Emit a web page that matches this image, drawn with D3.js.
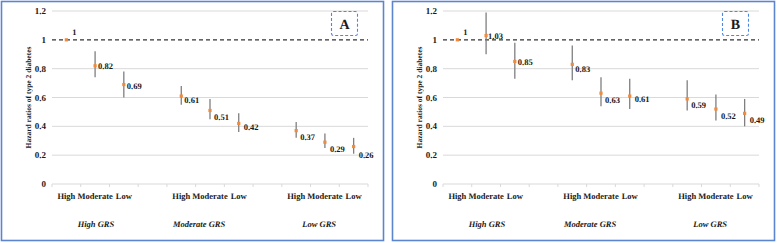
<!DOCTYPE html>
<html>
<head>
<meta charset="utf-8">
<script src="https://cdn.jsdelivr.net/npm/d3@7"></script>
<style>
  body { margin: 0; background: #fff; }
</style>
</head>
<body>
<div id="chart"></div>
<script>
// levels within each genetic risk group, and the groups themselves
const levels = ["High", "Moderate", "Low"];
const groups = ["High GRS", "Moderate GRS", "Low GRS"];
const yTicks = [0, 0.2, 0.4, 0.6, 0.8, 1, 1.2];

// panel A
const hrA = [1, 0.82, 0.69, 0.61, 0.51, 0.42, 0.37, 0.29, 0.26];
const lowA = [1, 0.74, 0.60, 0.55, 0.45, 0.36, 0.32, 0.25, 0.21];
const upA = [1, 0.92, 0.78, 0.68, 0.59, 0.49, 0.43, 0.35, 0.32];
const labelsA = ["1", "0.82", "0.69", "0.61", "0.51", "0.42", "0.37", "0.29", "0.26"];

// panel B
const hrB = [1, 1.03, 0.85, 0.83, 0.63, 0.61, 0.59, 0.52, 0.49];
const lowB = [1, 0.90, 0.73, 0.72, 0.54, 0.52, 0.51, 0.44, 0.40];
const upB = [1, 1.19, 0.98, 0.96, 0.74, 0.73, 0.72, 0.62, 0.59];
const labelsB = ["1", "1.03", "0.85", "0.83", "0.63", "0.61", "0.59", "0.52", "0.49"];

// label nudges (px) as placed in the original figure
const labelDxA = [6, 3, 3, 3, 4, 5, 4, 5, 5];
const labelDyA = [-8, 0, 1, 4, 7, 4, 6, 7, 8];
const labelDxB = [6, 2, 3, 3, 4, 5, 4, 5, 5];
const labelDyB = [-8, 0, 1, 5, 7, 3, 6, 7, 7];

const W = 777, H = 243;
const svg = d3.select("#chart").append("svg")
	.attr("width", W).attr("height", H)
	.attr("font-family", "'Liberation Serif', 'DejaVu Serif', serif")
	.attr("font-weight", "bold")
	.attr("fill", "#1a1a1a")
	.style("text-rendering", "geometricPrecision");

function drawPanel(ox, name, hr, lo, up, labels, ldx, ldy) {
	const g = svg.append("g").attr("transform", "translate(" + ox + ",0)");
	// frame
	g.append("rect")
		.attr("x", 1.5).attr("y", 1.5).attr("width", 382).attr("height", 239)
		.attr("fill", "none").attr("stroke", "#5b86cf").attr("stroke-width", 1.6);

	const x = d3.scaleBand().domain(d3.range(11)).range([52, 368]).padding(0);
	const y = d3.scaleLinear().domain([0, 1.2]).range([184, 11]);
	const slotOf = i => Math.floor(i / 3) * 4 + (i % 3);
	const cx = i => x(slotOf(i)) + x.bandwidth() / 2;
	const idx = d3.range(hr.length);

	// gridlines
	g.append("g").selectAll("line").data(yTicks.filter(d => d > 0 && d != 1)).enter()
		.append("line")
		.attr("x1", 52).attr("x2", 368)
		.attr("y1", d => y(d)).attr("y2", d => y(d))
		.attr("stroke", "#d9d9d9").attr("stroke-width", 1);

	// y tick labels
	g.append("g").selectAll("text").data(yTicks).enter()
		.append("text")
		.attr("x", 46).attr("y", d => y(d) + 3)
		.attr("text-anchor", "end")
		.attr("font-size", 9)
		.text(d => d);

	// x axis line and ticks at slot boundaries
	g.append("line")
		.attr("x1", 52).attr("x2", 368).attr("y1", y(0)).attr("y2", y(0))
		.attr("stroke", "#d9d9d9");
	g.append("g").selectAll("line").data(d3.range(12)).enter()
		.append("line")
		.attr("x1", d => 52 + d * x.step()).attr("x2", d => 52 + d * x.step())
		.attr("y1", y(0)).attr("y2", y(0) + 3)
		.attr("stroke", "#d9d9d9");

	// reference line at 1
	g.append("line")
		.attr("x1", 52).attr("x2", 368).attr("y1", y(1)).attr("y2", y(1))
		.attr("stroke", "#333").attr("stroke-width", 1.1).attr("stroke-dasharray", "4,3");

	// category labels
	g.append("g").selectAll("text").data(idx).enter()
		.append("text")
		.attr("x", i => cx(i)).attr("y", 199)
		.attr("text-anchor", "middle")
		.attr("font-size", 8.5)
		.text(i => levels[i % 3]);

	// group labels
	const groupPos = [1.53, 5.12, 9.3];
	g.append("g").selectAll("text").data(groups).enter()
		.append("text")
		.attr("x", (d, i) => 52 + groupPos[i] * x.step()).attr("y", 227)
		.attr("text-anchor", "middle")
		.attr("font-size", 8.5).attr("font-style", "italic")
		.text(d => d);

	// y axis title
	g.append("text")
		.attr("transform", "translate(31," + ((11 + 184) / 2) + ") rotate(-90)")
		.attr("text-anchor", "middle")
		.attr("font-size", 7.5)
		.text("Hazard ratios of type 2 diabetes");

	// error bars
	g.append("g").selectAll("line").data(idx.filter(i => up[i] != lo[i])).enter()
		.append("line")
		.attr("x1", i => cx(i)).attr("x2", i => cx(i))
		.attr("y1", i => y(lo[i])).attr("y2", i => y(up[i]))
		.attr("stroke", "#7f7f7f").attr("stroke-width", 1.3);

	// points
	g.append("g").selectAll("rect").data(idx).enter()
		.append("rect")
		.attr("x", i => cx(i) - 1.6).attr("y", i => y(hr[i]) - 1.6)
		.attr("width", 3.2).attr("height", 3.2)
		.attr("fill", "#f08a3c");

	// value labels
	g.append("g").selectAll("text").data(idx).enter()
		.append("text")
		.attr("x", i => cx(i) + ldx[i]).attr("y", i => y(hr[i]) + ldy[i] + 3)
		.attr("font-size", 8.5)
		.text(i => labels[i]);

	// panel letter box
	g.append("rect")
		.attr("x", 331.5).attr("y", 11.5).attr("width", 26).attr("height", 24).attr("rx", 2)
		.attr("fill", "none").attr("stroke", "#4f86e0").attr("stroke-width", 1.1)
		.attr("stroke-dasharray", "3,2");
	g.append("text")
		.attr("x", 344.5).attr("y", 29)
		.attr("text-anchor", "middle")
		.attr("font-size", 14)
		.text(name);
}

drawPanel(0, "A", hrA, lowA, upA, labelsA, labelDxA, labelDyA);
drawPanel(391, "B", hrB, lowB, upB, labelsB, labelDxB, labelDyB);
</script>
</body>
</html>
